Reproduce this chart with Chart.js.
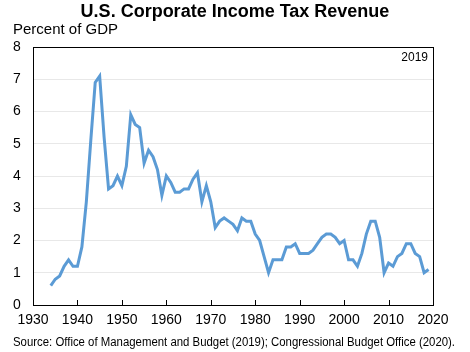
<!DOCTYPE html>
<html>
<head>
<meta charset="utf-8">
<script src="https://cdn.jsdelivr.net/npm/chart.js@4/dist/chart.umd.min.js"></script>
<style>
    body { margin: 0; background: #fff; }
    canvas { display: block; }
</style>
</head>
<body>
<canvas id="chart" width="470" height="352"></canvas>
<script>
const years = [];
for (let y = 1934; y <= 2019; y++) years.push(y);

// corporate income tax, percent of GDP, 1934-2019
const revenue = [
    0.6, 0.8, 0.9, 1.2, 1.4, 1.2, 1.2, 1.8, 3.2, 5.1,
    6.9, 7.1, 5.2, 3.6, 3.7, 4.0, 3.7, 4.3, 5.9, 5.6,
    5.5, 4.4, 4.8, 4.6, 4.2, 3.4, 4.0, 3.8, 3.5, 3.5,
    3.6, 3.6, 3.9, 4.1, 3.2, 3.7, 3.2, 2.4, 2.6, 2.7,
    2.6, 2.5, 2.3, 2.7, 2.6, 2.6, 2.2, 2.0, 1.5, 1.0,
    1.4, 1.4, 1.4, 1.8, 1.8, 1.9, 1.6, 1.6, 1.6, 1.7,
    1.9, 2.1, 2.2, 2.2, 2.1, 1.9, 2.0, 1.4, 1.4, 1.2,
    1.6, 2.2, 2.6, 2.6, 2.1, 1.0, 1.3, 1.2, 1.5, 1.6,
    1.9, 1.9, 1.6, 1.5, 1.0, 1.1
];

const xTicks = [1930, 1940, 1950, 1960, 1970, 1980, 1990, 2000, 2010, 2020];
const yTicks = [0, 1, 2, 3, 4, 5, 6, 7, 8];

const FONT = "'Liberation Sans', Arial, sans-serif";

// frame, inside tick marks and the loose text around the plot
const decor = {
    id: 'decor',
    afterDraw(chart) {
        const ctx = chart.ctx;
        const a = chart.chartArea;
        const xs = chart.scales.x;
        ctx.save();
        ctx.strokeStyle = '#000';
        ctx.lineWidth = 1;
        ctx.beginPath();
        xTicks.forEach(t => {
            const px = Math.round(xs.getPixelForValue(t)) + 0.5;
            ctx.moveTo(px, a.bottom);
            ctx.lineTo(px, a.bottom - 5);
        });
        ctx.stroke();
        ctx.strokeRect(Math.round(a.left) + 0.5, Math.round(a.top) + 0.5,
            Math.round(a.right - a.left), Math.round(a.bottom - a.top));

        ctx.fillStyle = '#000';
        ctx.textBaseline = 'middle';
        ctx.textAlign = 'center';
        ctx.font = 'bold 18px ' + FONT;
        ctx.fillText('U.S. Corporate Income Tax Revenue', 235, 12, 312);

        ctx.textAlign = 'left';
        ctx.font = '15px ' + FONT;
        ctx.fillText('Percent of GDP', 13, 30);

        ctx.font = '12.5px ' + FONT;
        ctx.fillText('Source: Office of Management and Budget (2019); Congressional Budget Office (2020).', 13, 343, 442);

        ctx.textAlign = 'right';
        ctx.font = '12px ' + FONT;
        ctx.fillText('2019', 428, 58);
        ctx.restore();
    }
};

new Chart(document.getElementById('chart'), {
    type: 'line',
    data: {
        datasets: [{
            data: years.map((y, i) => ({ x: y, y: revenue[i] })),
            borderColor: '#5b9bd5',
            borderWidth: 3,
            pointRadius: 0,
            tension: 0,
            fill: false
        }]
    },
    options: {
        responsive: false,
        animation: false,
        layout: { padding: { left: 13, top: 47, right: 37, bottom: 0 } },
        plugins: {
            legend: { display: false },
            tooltip: { enabled: false }
        },
        scales: {
            x: {
                type: 'linear',
                min: 1930,
                max: 2020,
                afterFit: s => { s.height = 47; },
                afterBuildTicks: s => { s.ticks = xTicks.map(v => ({ value: v })); },
                grid: { display: false, drawTicks: false },
                border: { display: false },
                ticks: {
                    color: '#000',
                    padding: 7,
                    maxRotation: 0,
                    autoSkip: false,
                    callback: v => String(v),
                    font: { family: FONT, size: 14 }
                }
            },
            y: {
                min: 0,
                max: 8,
                afterFit: s => { s.width = 20; },
                afterBuildTicks: s => { s.ticks = yTicks.map(v => ({ value: v })); },
                grid: { color: '#e8e8e8', drawTicks: false },
                border: { display: false },
                ticks: {
                    color: '#000',
                    crossAlign: 'far',
                    font: { family: FONT, size: 14 }
                }
            }
        }
    },
    plugins: [decor]
});
</script>
</body>
</html>
